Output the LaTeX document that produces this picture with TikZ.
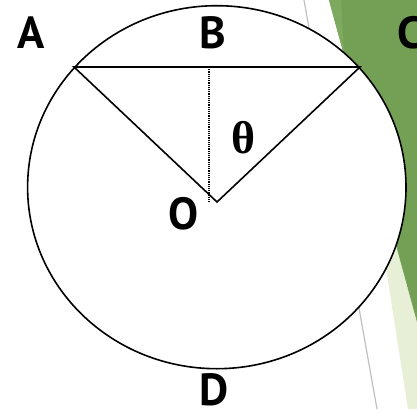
\documentclass[tikz,border=0pt]{standalone}
\usepackage{fontspec}
\setmainfont{PT Sans}
\newfontfamily\greekfont{Liberation Serif}
\usetikzlibrary{positioning}
\definecolor{leaf}{RGB}{115,160,84}
\definecolor{leaftop}{RGB}{126,170,95}
\definecolor{sprout}{RGB}{231,240,214}
\definecolor{rail}{RGB}{192,192,192}
\tikzset{
  lbl/.style={font=\fontsize{45}{50}\selectfont\bfseries,inner sep=0pt},
  ang/.style={font=\greekfont\fontsize{46}{50}\selectfont\bfseries,inner sep=0pt},
  rim/.style={line width=1.6pt,black,fill=white},
  side/.style={line width=1.6pt,black,line join=miter},
  drop/.style={line width=1.4pt,black,dash pattern=on 1.2pt off 1pt},
}

\begin{document}
\begin{tikzpicture}[x=1pt,y=-1pt]
  \useasboundingbox (0,0) rectangle (417,409);
  % slide decoration
  \draw[rail,line width=1.2pt] (304,0) -- (377,409);
  \fill[sprout] (344,0) -- (408,409) -- (417,409) -- (417,0) -- cycle;
  \fill[leaf] (329,0) -- (417,322) -- (417,0) -- cycle;
  \fill[leaftop] (329,0) -- (341,0) -- (344,55) -- cycle;
  % circle
  \coordinate (ctr) at (216.8,187.2);
  \draw[rim] (ctr) ellipse [x radius=189.2pt, y radius=181.5pt];
  % chord and radii
  \coordinate (a) at (74,67);
  \coordinate (c) at (360,67);
  \coordinate (o) at (217,202);
  \coordinate (b) at (209,67);
  \coordinate (bo) at (209,202);
  \draw[side] (a) -- (c) -- (o) -- cycle;
  \draw[drop] (b) -- (bo);
  % labels
  \node[lbl] (labA) at (31,33) {A};
  \node[lbl] (labB) at (213,33) {B};
  \node[lbl] (labC) at (410,33) {C};
  \node[lbl] (labO) at (184,214) {O};
  \node[lbl] (labD) at (214,390) {D};
  \node[ang] (labT) at (244,138) {θ};
\end{tikzpicture}
\end{document}
